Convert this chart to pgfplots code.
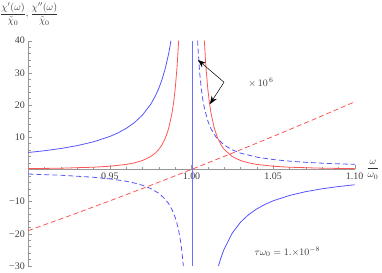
\documentclass[border=0pt]{standalone}
\usepackage{pgfplots}
\pgfplotsset{compat=1.18}
\usepackage{fontspec}
\setmainfont{Liberation Serif}
\usetikzlibrary{arrows.meta}
\definecolor{cblue}{RGB}{85,85,255}
\definecolor{vblue}{RGB}{110,110,255}
\definecolor{cred}{RGB}{255,85,85}
\definecolor{axgray}{RGB}{150,150,150}
\begin{document}
\begin{tikzpicture}
\useasboundingbox (-28.3bp,-7bp) rectangle (353.7bp,266bp);
\begin{axis}[
  scale only axis, width=326.4bp, height=225.3bp,
  at={(0,0)}, anchor=south west,
  xmin=0.9, xmax=1.1, ymin=-30, ymax=40,
  axis x line=middle, axis y line=left,
  axis line style={axgray,-},
  every inner x axis line/.append style={-},
  every outer x axis line/.append style={-},
  every inner y axis line/.append style={-},
  every outer y axis line/.append style={-},
  tick style={axgray, line width=0.4pt},
  tick align=inside,
  major tick length=4bp, minor tick length=2.5bp,
  xtick={0.9,0.95,1,1.05,1.1},
  xticklabels={,0.95,1.00,1.05,1.10},
  ytick={-30,-20,-10,0,10,20,30,40},
  yticklabels={−30,−20,−10,,10,20,30,40},
  minor x tick num=4, minor y tick num=4,
  ticklabel style={black!75, font=\normalsize},
  clip=false,
]
% vertical asymptote line
\addplot[vblue, line width=0.7pt] coordinates {(1.0003,-30) (1.0003,40)};
% blue solid (chi')
\addplot[cblue, line width=0.8pt] coordinates {
(0.90,5.263) (0.91,5.817) (0.92,6.510) (0.93,7.402) (0.94,8.591) (0.95,10.256)
(0.955,11.367) (0.96,12.755) (0.965,14.540) (0.97,16.920) (0.975,20.253)
(0.978,22.980) (0.98,25.253) (0.982,28.030) (0.984,31.502) (0.986,35.966) (0.98742,40)};
\addplot[cblue, line width=0.8pt] coordinates {
(1.01653,-30) (1.018,-27.53) (1.02,-24.752) (1.025,-19.753) (1.03,-16.420) (1.035,-14.040)
(1.04,-12.255) (1.045,-10.867) (1.05,-9.756) (1.06,-8.091) (1.07,-6.901) (1.08,-6.010)
(1.09,-5.316) (1.10,-4.762)};
% blue dashed
\addplot[cblue, line width=0.8pt, dash pattern=on 5bp off 3bp] coordinates {
(0.90,-1.421) (0.92,-1.797) (0.94,-2.423) (0.95,-2.923) (0.96,-3.673) (0.965,-4.209)
(0.97,-4.924) (0.975,-5.924) (0.98,-7.424) (0.984,-9.299) (0.986,-10.639) (0.988,-12.425)
(0.990,-14.925) (0.991,-16.591) (0.992,-18.675) (0.993,-21.353) (0.994,-24.925) (0.99501,-30)};
\addplot[cblue, line width=0.8pt, dash pattern=on 5bp off 3bp] coordinates {
(1.00376,40) (1.004,37.575) (1.005,30.075) (1.006,25.075) (1.007,21.503) (1.008,18.825)
(1.010,15.075) (1.012,12.575) (1.015,10.074) (1.02,7.574) (1.025,6.074) (1.03,5.074)
(1.04,3.824) (1.05,3.073) (1.06,2.573) (1.07,2.215) (1.08,1.947) (1.09,1.738) (1.10,1.571)};
% red solid
\addplot[cred, line width=0.8pt] coordinates {
(0.90,0.249) (0.92,0.390) (0.94,0.694) (0.95,0.999) (0.96,1.562) (0.965,2.040) (0.97,2.777)
(0.975,3.999) (0.978,5.165) (0.98,6.249) (0.982,7.715) (0.984,9.765) (0.986,12.754)
(0.988,17.360) (0.989,20.661) (0.990,25.000) (0.991,30.864) (0.9915,34.601) (0.992,39.061) (0.9921,40)};
\addplot[cred, line width=0.8pt] coordinates {
(1.0079,40) (1.008,39.062) (1.0085,34.602) (1.009,30.864) (1.010,25.0) (1.011,20.661)
(1.012,17.360) (1.014,12.754) (1.016,9.765) (1.018,7.716) (1.02,6.249) (1.025,3.999)
(1.03,2.777) (1.035,2.040) (1.04,1.562) (1.05,0.999) (1.06,0.694) (1.08,0.390) (1.10,0.249)};
% red dashed
\addplot[cred, line width=0.8pt, dash pattern=on 5bp off 3bp] coordinates {
(0.90,-19.00) (0.925,-14.44) (0.95,-9.75) (0.975,-4.94) (1.00,0) (1.025,5.06)
(1.05,10.25) (1.075,15.56) (1.10,21.00)};
% annotations
\draw[-{Stealth[length=8bp,width=6bp]}, black, line width=0.5pt] (axis cs:1.0199,27.1) -- (axis cs:1.0040,34.0);
\draw[-{Stealth[length=8bp,width=6bp]}, black, line width=0.5pt] (axis cs:1.0199,27.1) -- (axis cs:1.0113,20.3);
\node[black!80] at (axis cs:1.0426,26.9) {$\times\,10^{\,6}$};
\node[black!80] at (axis cs:1.0587,-25.6) {$\tau\omega_0 = 1.{\times}10^{-8}$};
\end{axis}
\node[black!80, anchor=north west, inner sep=0pt] at (-28.3bp,263.5bp) {$\displaystyle\frac{\chi'(\omega)}{\tilde{\chi}_0},\frac{\chi''(\omega)}{\tilde{\chi}_0}$};
\node[black!80, inner sep=0pt] at (344.7bp,96.5bp) {$\displaystyle\frac{\omega}{\omega_0}$};
\end{tikzpicture}
\end{document}
